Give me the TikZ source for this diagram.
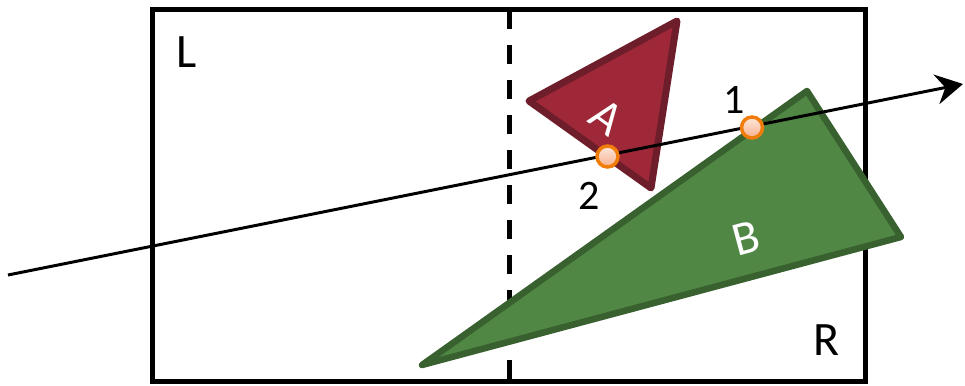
\documentclass[tikz,border=0pt]{standalone}
\usepackage{fontspec}
\setmainfont{Carlito}
\usetikzlibrary{arrows.meta,shadings}
\definecolor{afill}{RGB}{158,40,56}
\definecolor{aline}{RGB}{110,30,42}
\definecolor{bfill}{RGB}{80,135,68}
\definecolor{bline}{RGB}{56,97,47}
\definecolor{dotline}{RGB}{240,125,10}
\definecolor{dottop}{RGB}{253,232,220}
\definecolor{dotbot}{RGB}{246,176,140}
\tikzset{
  frame/.style={draw=black,line width=5pt},
  divider/.style={draw=black,line width=5pt,dash pattern=on 19pt off 16pt},
  triA/.style={fill=afill,draw=aline,line width=7pt,line join=round},
  triB/.style={fill=bfill,draw=bline,line width=6.5pt,line join=round},
  ray/.style={draw=black,line width=3pt,-{Stealth[length=27pt,width=30pt,inset=9pt]}},
  hit/.style={circle,draw=dotline,line width=3.5pt,minimum size=21pt,inner sep=0pt,top color=dottop,bottom color=dotbot},
  biglbl/.style={font=\fontsize{48}{54}\selectfont,text=black,inner sep=0pt},
  numlbl/.style={font=\fontsize{42}{48}\selectfont,text=black,inner sep=0pt},
  shapelbl/.style={font=\fontsize{48}{54}\selectfont,text=white,inner sep=0pt}
}
\begin{document}
\begin{tikzpicture}[x=1pt,y=-1pt]
\useasboundingbox (0,0) rectangle (965,385);
% frame
\coordinate (tl) at (152,10);
\coordinate (br) at (865,381);
\draw[frame] (tl) rectangle (br);
% divider
\coordinate (dtop) at (509.5,10);
\coordinate (dbot) at (509.5,381);
\draw[divider] (dtop) -- (dbot);
% triangle A
\coordinate (a1) at (529,101);
\coordinate (a2) at (677,21);
\coordinate (a3) at (651,188);
\draw[triA] (a1) -- (a2) -- (a3) -- cycle;
% triangle B
\coordinate (b1) at (807,91);
\coordinate (b2) at (901,237);
\coordinate (b3) at (422,365);
\draw[triB] (b1) -- (b2) -- (b3) -- cycle;
% ray
\coordinate (rs) at (8,275);
\coordinate (re) at (963,84);
\draw[ray] (rs) -- (re);
% intersection points
\node[hit] (p1) at (752,127.5) {};
\node[hit] (p2) at (607.5,156.5) {};
% labels
\node[biglbl] (L) at (187,52) {L};
\node[biglbl] (R) at (827,340) {R};
\node[numlbl] (n1) at (734,100) {1};
\node[numlbl] (n2) at (589,196) {2};
\node[shapelbl,rotate=-36] (lA) at (607,117) {A};
\node[shapelbl,rotate=15] (lB) at (746,238) {B};
\end{tikzpicture}
\end{document}
